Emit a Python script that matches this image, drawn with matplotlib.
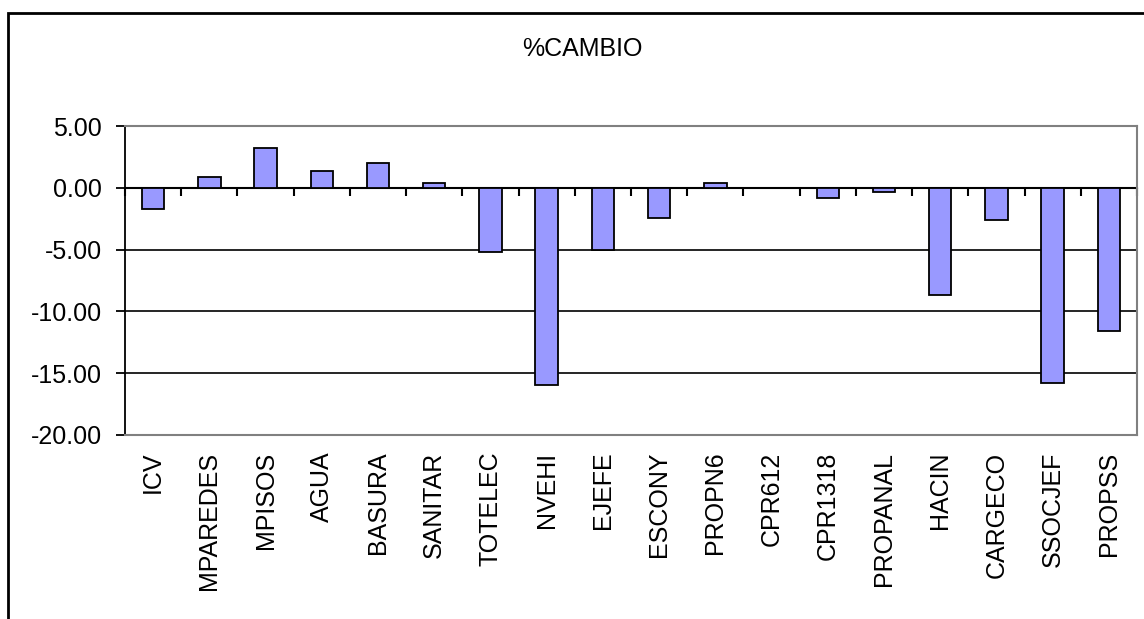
import matplotlib.pyplot as plt
from matplotlib.patches import Rectangle
import numpy as np

plt.rcParams['font.family'] = ['Liberation Sans', 'DejaVu Sans']

# data
categories = ["ICV", "MPAREDES", "MPISOS", "AGUA", "BASURA", "SANITAR", "TOTELEC",
              "NVEHI", "EJEFE", "ESCONY", "PROPN6", "CPR612", "CPR1318", "PROPANAL",
              "HACIN", "CARGECO", "SSOCJEF", "PROPSS"]
cambio = [-1.72, 0.84, 3.23, 1.32, 1.99, 0.38, -5.16,
          -15.97, -5.0, -2.42, 0.38, 0.0, -0.8, -0.32,
          -8.7, -2.58, -15.8, -11.58]
yticks = [5, 0, -5, -10, -15, -20]

fig = plt.figure(figsize=(11.44, 6.19), dpi=100)
ax = fig.add_axes([125/1144, 184/619, 1012/1144, 309/619])

x = np.arange(len(categories))
vals = np.array(cambio)
nz = vals != 0  # a zero bar is not drawn at all
ax.bar(x[nz], vals[nz], width=0.4, color="#9999FF", edgecolor="black", linewidth=1.3, zorder=3)

ax.set_xlim(-0.5, len(categories) - 0.5)
ax.set_ylim(-20, 5)

# grid lines
for v in yticks[2:-1]:
    ax.axhline(v, color="black", linewidth=1.2, zorder=1)

# spines
for s in ["top", "right", "bottom"]:
    ax.spines[s].set_color("#808080")
    ax.spines[s].set_linewidth(1.5)
ax.spines["left"].set_color("black")
ax.spines["left"].set_linewidth(1.3)

ax.set_yticks(yticks)
ax.set_yticklabels(["%.2f" % v for v in yticks], fontsize=18)
ax.tick_params(axis="y", direction="out", length=6.5, width=1.3, pad=10)

ax.set_xticks(x)
ax.set_xticklabels(categories, rotation=90, fontsize=18)
ax.tick_params(axis="x", length=0, pad=12)

# zero axis with tick marks between categories
sec = ax.secondary_xaxis(20/25)
for s in sec.spines.values():
    s.set_color("black")
    s.set_linewidth(1.5)
sec.set_xticks(np.arange(len(categories) + 1) - 0.5)
sec.set_xticklabels([])
sec.tick_params(direction="in", length=6, width=1.5)

fig.text(582/1144, 1 - 49/619, "%CAMBIO", ha="center", va="center", fontsize=18)

# chart border
fig.patches.append(Rectangle((8/1144, -0.1), 2, 1.1 - 13/619, transform=fig.transFigure,
                             fill=False, edgecolor="black", linewidth=2))

plt.savefig("out.png", dpi=100)
